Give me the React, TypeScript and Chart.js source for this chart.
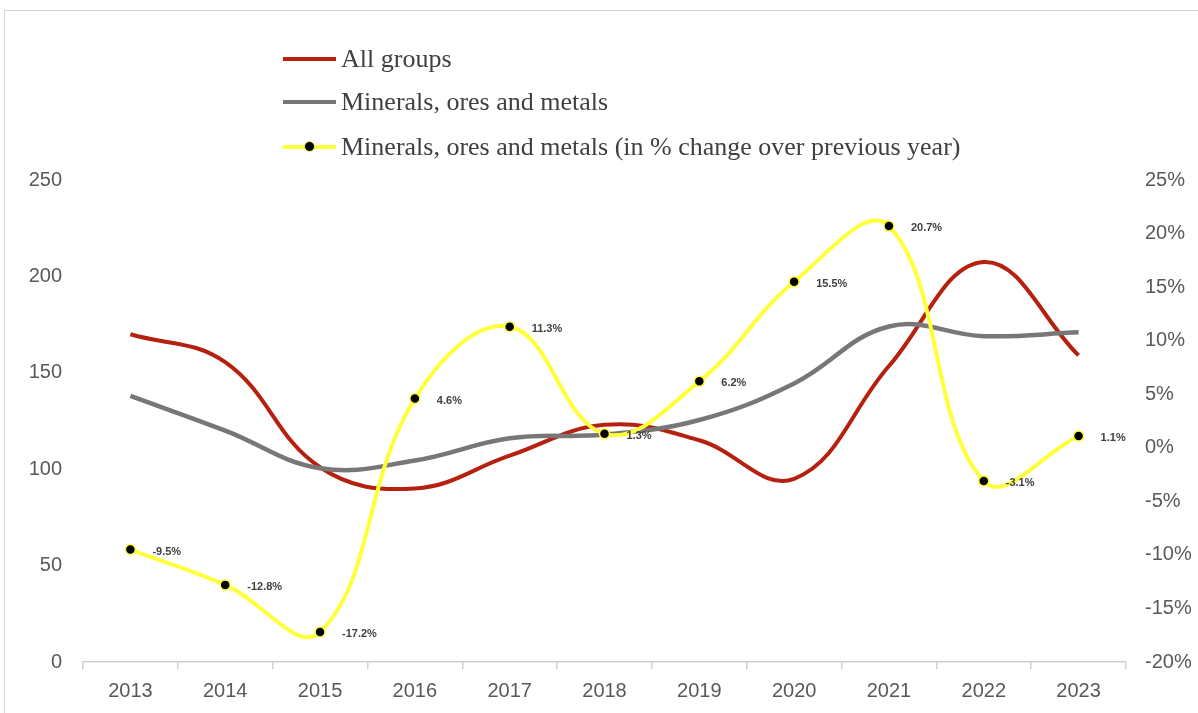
import React, { useEffect, useRef } from "react";
import { Chart, registerables } from "chart.js";

Chart.register(...registerables);

const years = ["2013", "2014", "2015", "2016", "2017", "2018", "2019", "2020", "2021", "2022", "2023"];
const allGroups = [170, 155.5, 101, 90, 107, 123, 115, 95, 153.5, 207.5, 159];
const minerals = [138, 120, 100.5, 104.5, 116, 118, 125.5, 144.5, 174, 169, 171];
const mineralsPct = [-9.5, -12.8, -17.2, 4.6, 11.3, 1.3, 6.2, 15.5, 20.7, -3.1, 1.1];
const pctLabels = ["-9.5%", "-12.8%", "-17.2%", "4.6%", "11.3%", "1.3%", "6.2%", "15.5%", "20.7%", "-3.1%", "1.1%"];

const legendNames = [
  "All groups",
  "Minerals, ores and metals",
  "Minerals, ores and metals (in % change over previous year)",
];

const RED = "#b5200f";
const GRAY = "#777777";
const YELLOW = "#ffff3a";

const labelPlugin = {
  id: "pctLabels",
  afterDatasetsDraw(chart: any) {
    const meta = chart.getDatasetMeta(2);
    const ctx = chart.ctx;
    ctx.save();
    ctx.font = "bold 11px 'Liberation Sans', Arial, sans-serif";
    ctx.fillStyle = "#404040";
    ctx.textAlign = "left";
    ctx.textBaseline = "middle";
    meta.data.forEach((pt: any, i: number) => {
      ctx.fillText(pctLabels[i], pt.x + 22, pt.y + 2);
    });
    ctx.restore();
  },
};

export default function App() {
  const ref = useRef<HTMLCanvasElement>(null);
  useEffect(() => {
    document.body.style.margin = "0";
    document.body.style.overflow = "hidden";
    const chart = new Chart(ref.current!, {
      type: "line",
      data: {
        labels: years,
        datasets: [
          {
            label: legendNames[0],
            data: allGroups,
            borderColor: RED,
            borderWidth: 4,
            pointRadius: 0,
            tension: 0.4,
            yAxisID: "y",
            order: 2,
          },
          {
            label: legendNames[1],
            data: minerals,
            borderColor: GRAY,
            borderWidth: 4.5,
            pointRadius: 0,
            tension: 0.4,
            yAxisID: "y",
            order: 1,
          },
          {
            label: legendNames[2],
            data: mineralsPct,
            borderColor: YELLOW,
            borderWidth: 4,
            pointRadius: 5,
            pointBackgroundColor: "#000000",
            pointBorderColor: YELLOW,
            pointBorderWidth: 1.5,
            tension: 0.4,
            yAxisID: "y2",
            order: 0,
          },
        ],
      },
      options: {
        responsive: false,
        animation: false,
        layout: { padding: { top: 180, bottom: 0, left: 0, right: 0 } },
        plugins: { legend: { display: false }, tooltip: { enabled: false } },
        scales: {
          x: {
            offset: true,
            grid: {
              offset: true,
              drawOnChartArea: false,
              tickLength: 7,
              color: "#d0d0d0",
              lineWidth: 1.5,
            },
            border: { color: "#d0d0d0", width: 1.5 },
            ticks: {
              padding: 10,
              color: "#595959",
              font: { family: "'Liberation Sans', Arial, sans-serif", size: 20 },
            },
            afterFit: (s: any) => {
              s.height = 51;
            },
          },
          y: {
            position: "left",
            min: 0,
            max: 250,
            ticks: {
              stepSize: 50,
              padding: 21,
              color: "#595959",
              font: { family: "'Liberation Sans', Arial, sans-serif", size: 20 },
            },
            grid: { display: false, drawTicks: false },
            border: { display: false },
            afterFit: (s: any) => {
              s.width = 83;
            },
          },
          y2: {
            position: "right",
            min: -20,
            max: 25,
            ticks: {
              stepSize: 5,
              padding: 19,
              color: "#595959",
              font: { family: "'Liberation Sans', Arial, sans-serif", size: 20 },
              callback: (v: any) => v + "%",
            },
            grid: { display: false, drawTicks: false },
            border: { display: false },
            afterFit: (s: any) => {
              s.width = 72;
            },
          },
        },
      },
      plugins: [labelPlugin],
    });
    return () => chart.destroy();
  }, []);

  const legendColors = [RED, GRAY, YELLOW];
  const legendY = [59, 102, 147];

  return (
    <div style={{ position: "relative", width: 1198, height: 713, overflow: "hidden", background: "#fff" }}>
      <div
        style={{
          position: "absolute",
          left: 4,
          top: 10,
          width: 1300,
          height: 800,
          border: "1.5px solid #d4d4d4",
        }}
      />
      <canvas ref={ref} width={1198} height={713} style={{ position: "absolute", left: 0, top: 0 }} />
      {legendNames.map((name, i) => (
        <div key={name}>
          <div
            style={{
              position: "absolute",
              left: 283,
              top: legendY[i] - 2,
              width: 53,
              height: 4,
              background: legendColors[i],
            }}
          />
          {i === 2 && (
            <div
              style={{
                position: "absolute",
                left: 304,
                top: legendY[i] - 6,
                width: 9,
                height: 9,
                borderRadius: "50%",
                background: "#000",
                border: `1.5px solid ${YELLOW}`,
              }}
            />
          )}
          <div
            style={{
              position: "absolute",
              left: 341,
              top: legendY[i] - 16,
              height: 32,
              lineHeight: "32px",
              fontFamily: "'Liberation Serif', 'Times New Roman', serif",
              fontSize: 26,
              color: "#404040",
              whiteSpace: "nowrap",
            }}
          >
            {name}
          </div>
        </div>
      ))}
    </div>
  );
}
